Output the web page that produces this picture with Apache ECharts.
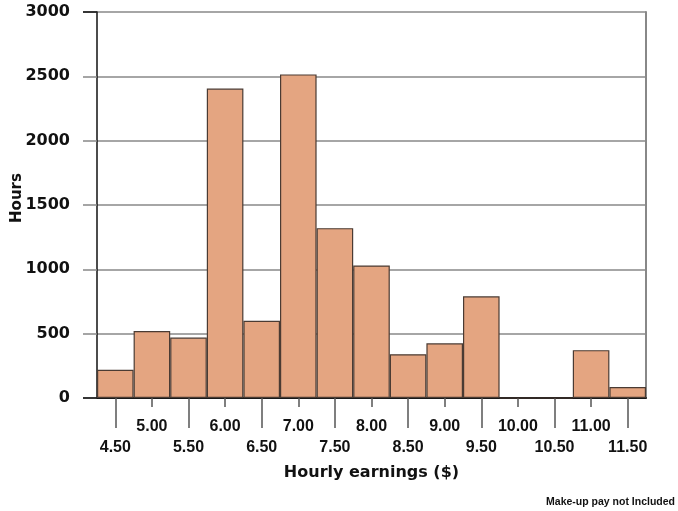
<!DOCTYPE html>
<html>
<head>
<meta charset="utf-8">
<script src="https://cdn.jsdelivr.net/npm/echarts@6/dist/echarts.min.js"></script>
<style>html,body{margin:0;padding:0;background:#fff}#c{width:678px;height:511px}</style>
</head>
<body>
<div id="c"></div>
<script>
var categories = ['4.50','5.00','5.50','6.00','6.50','7.00','7.50','8.00','8.50','9.00','9.50','10.00','10.50','11.00','11.50'];
var hours = [220, 520, 470, 2405, 600, 2515, 1320, 1030, 340, 425, 790, 0, 0, 372, 85];
var yTicks = [0, 500, 1000, 1500, 2000, 2500, 3000];

var FONT = '"DejaVu Sans", "Liberation Sans", Arial, sans-serif';
var FONT2 = '"Liberation Sans", Arial, sans-serif';
var chart = echarts.init(document.getElementById('c'), null, {renderer: 'canvas'});
var isOdd = function (i) { return i % 2 === 1; };
var isEven = function (i) { return i % 2 === 0; };

chart.setOption({
  animation: false,
  backgroundColor: '#fff',
  textStyle: {fontFamily: FONT},
  grid: {left: 97, right: 32, top: 12, bottom: 113, containLabel: false},
  xAxis: [
    {
      type: 'category', data: categories, position: 'bottom', boundaryGap: true,
      axisLine: {show: true, lineStyle: {color: '#111', width: 1.5}},
      axisTick: {show: true, alignWithLabel: true, length: 9, interval: function (i) { return isOdd(i); }, lineStyle: {color: '#555', width: 1.5}},
      axisLabel: {show: true, interval: function (i) { return isOdd(i); }, margin: 21, fontSize: 16, fontWeight: 'bold', color: '#111', fontFamily: FONT2},
      name: 'Hourly earnings ($)', nameLocation: 'middle', nameGap: 67,
      nameTextStyle: {fontSize: 16, fontWeight: 'bold', color: '#111', fontFamily: FONT}
    },
    {
      type: 'category', data: categories, position: 'bottom', boundaryGap: true,
      axisLine: {show: false},
      axisTick: {show: true, alignWithLabel: true, length: 30, interval: function (i) { return isEven(i); }, lineStyle: {color: '#555', width: 1.5}},
      axisLabel: {show: true, interval: function (i) { return isEven(i); }, margin: 42, fontSize: 16, fontWeight: 'bold', color: '#111', fontFamily: FONT2}
    },
    {
      type: 'category', data: categories, position: 'top',
      axisLine: {show: true, lineStyle: {color: '#111', width: 1.5}},
      axisTick: {show: false}, axisLabel: {show: false}
    }
  ],
  yAxis: [
    {
      type: 'value', min: 0, max: 3000, interval: 500, position: 'left',
      axisLine: {show: true, lineStyle: {color: '#111', width: 1.5}},
      axisTick: {show: true, inside: false, length: 14, lineStyle: {color: '#888', width: 1.5}},
      axisLabel: {margin: 27, fontSize: 16, fontWeight: 'bold', color: '#111', fontFamily: FONT,
        formatter: function (v) { return yTicks.indexOf(v) >= 0 ? String(v) : ''; }},
      splitLine: {show: true, lineStyle: {color: '#888', width: 1.5}}
    },
    {
      type: 'value', min: 0, max: 3000, interval: 3000, position: 'left',
      axisLine: {show: false},
      axisTick: {show: true, length: 14, lineStyle: {color: '#111', width: 1.5}},
      axisLabel: {show: false}, splitLine: {show: false}
    },
    {
      type: 'value', min: 0, max: 3000, position: 'right',
      axisLine: {show: true, lineStyle: {color: '#888', width: 2}},
      axisTick: {show: false}, axisLabel: {show: false}, splitLine: {show: false}
    }
  ],
  series: [{
    type: 'bar', xAxisIndex: 0, yAxisIndex: 0, data: hours,
    barCategoryGap: '0%', barGap: '0%',
    itemStyle: {color: '#E4A581', borderColor: '#4a3b33', borderWidth: 1.2},
    z: 3
  }],
  graphic: [
    {
      type: 'text', x: 17, y: 198, rotation: Math.PI / 2,
      style: {text: 'Hours', font: 'bold 15px ' + FONT, fill: '#111', align: 'center', verticalAlign: 'middle'}
    },
    {
      type: 'text', right: 3, top: 497,
      style: {text: 'Make-up pay not Included', font: 'bold 10.5px ' + FONT2, fill: '#111'}
    }
  ]
});
</script>
</body>
</html>
